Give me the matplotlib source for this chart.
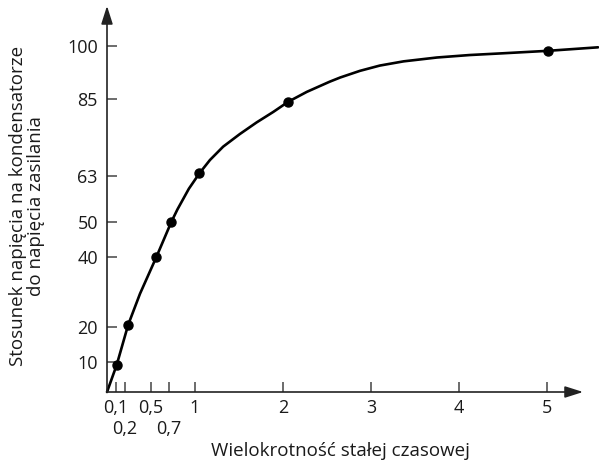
import matplotlib.pyplot as plt

plt.rcParams['font.family'] = ['Open Sans', 'DejaVu Sans']

point_t = [0.11, 0.24, 0.56, 0.73, 1.05, 2.06, 5.01]
point_v = [9.2, 20.6, 39.9, 49.9, 63.8, 84.2, 98.7]

# extra points
curve_t = [0, 0.375, 0.64, 0.80, 0.93, 1.17, 1.32, 1.51, 1.70, 1.89, 2.27, 2.53,
           2.65, 2.875, 3.1, 3.37, 3.75, 4.12, 4.5, 5.58]
curve_v = [1.5, 29.5, 44.6, 53.5, 59.4, 67.6, 71.4, 75.0, 78.3, 81.3, 87.0, 89.9,
           91.1, 93.0, 94.5, 95.7, 96.8, 97.5, 98.0, 99.7]

xticks_top = [0.1, 0.5, 1, 2, 3, 4, 5]
xlabels_top = ['0,1', '0,5', '1', '2', '3', '4', '5']
xticks_low = [0.2, 0.7]
xlabels_low = ['0,2', '0,7']
yticks = [10, 20, 40, 50, 63, 85, 100]

line_t, line_v = zip(*sorted(zip(point_t + curve_t, point_v + curve_v)))

fig = plt.figure(figsize=(5.99, 4.62), dpi=100)
ax = fig.add_axes([107 / 599, 70 / 462, 492 / 599, 384 / 462])
ax.set_xlim(0, 492 / 88)
ax.set_ylim(1.5, 1.5 + 384 / 3.51)

ax.plot(line_t, line_v, color='black', lw=1.9, clip_on=False, zorder=3,
        solid_joinstyle='round', solid_capstyle='round')
ax.plot(point_t, point_v, 'o', color='black', ms=6.5, clip_on=False, zorder=4)

for s in ax.spines.values():
    s.set_visible(False)

axis_color = '#444444'
y0 = ax.get_ylim()[0]
arrow = dict(arrowstyle='-|>,head_length=1.1,head_width=0.35',
             color='#222222', lw=1.2, shrinkA=0, shrinkB=0)
ax.annotate('', xy=(5.41, y0), xytext=(0, y0), arrowprops=arrow,
            annotation_clip=False)
ax.annotate('', xy=(0, 111.5), xytext=(0, y0), arrowprops=arrow,
            annotation_clip=False)

ax.set_xticks(xticks_top)
ax.set_xticklabels(xlabels_top)
ax.set_xticks(xticks_low, minor=True)
ax.set_xticklabels(xlabels_low, minor=True)
ax.set_yticks(yticks)
ax.tick_params(which='both', direction='in', length=7.5, width=1.1,
               color=axis_color, labelsize=13, labelcolor='#1a1a1a')
ax.tick_params(axis='y', pad=6.5)
ax.tick_params(axis='x', which='major', pad=5)
ax.tick_params(axis='x', which='minor', pad=20)

fig.text(340 / 599, 1 - 451 / 462, 'Wielokrotność stałej czasowej',
         ha='center', va='center', fontsize=13.5, color='#1a1a1a')
fig.text(27 / 599, 1 - 206 / 462,
         'Stosunek napięcia na kondensatorze\ndo napięcia zasilania',
         ha='center', va='center', rotation=90, multialignment='center',
         fontsize=13.5, color='#1a1a1a', linespacing=1.07)

fig.savefig('out.png', dpi=100)
